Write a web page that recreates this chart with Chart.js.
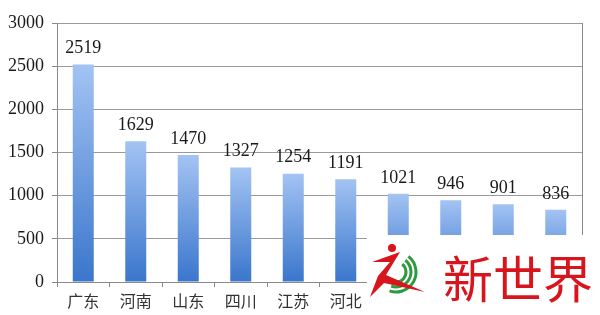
<!DOCTYPE html>
<html>
<head>
<meta charset="utf-8">
<script src="https://cdn.jsdelivr.net/npm/chart.js@4"></script>
<style>
  html, body { margin: 0; padding: 0; background: #fff; }
  #wrap { width: 600px; height: 315px; }
</style>
</head>
<body>
<div id="wrap"><canvas id="provChart" width="600" height="315"></canvas></div>
<script>
const provinces = ['广东', '河南', '山东', '四川', '江苏', '河北', '', '', '', ''];
const counts = [2519, 1629, 1470, 1327, 1254, 1191, 1021, 946, 901, 836];
const yTicks = [0, 500, 1000, 1500, 2000, 2500, 3000];

const serif = '"Liberation Serif", "DejaVu Serif", serif';

// numbers above each bar
const valueLabels = {
  id: 'valueLabels',
  afterDatasetsDraw(chart) {
    const c = chart.ctx;
    const meta = chart.getDatasetMeta(0);
    c.save();
    c.font = '18px ' + serif;
    c.fillStyle = '#1a1a1a';
    c.textAlign = 'center';
    c.textBaseline = 'bottom';
    meta.data.forEach((bar, i) => {
      c.fillText(String(counts[i]), bar.x, bar.y - 7);
    });
    c.restore();
  }
};

// right edge of the plot box
const frame = {
  id: 'frame',
  beforeDatasetsDraw(chart) {
    const a = chart.chartArea;
    const c = chart.ctx;
    c.save();
    c.strokeStyle = '#8a8a8a';
    c.lineWidth = 1;
    c.beginPath();
    c.moveTo(a.right + 0.5, a.top);
    c.lineTo(a.right + 0.5, a.bottom);
    c.stroke();
    c.restore();
  }
};

// watermark patch in the bottom right corner
const watermark = {
  id: 'watermark',
  afterDraw(chart) {
    const c = chart.ctx;
    c.save();
    c.fillStyle = '#fff';
    c.fillRect(367, 235, 233, 80);

    // green swooshes
    c.strokeStyle = '#2e9a3e';
    c.lineWidth = 3;
    for (let k = 0; k < 3; k++) {
      c.beginPath();
      c.arc(396, 272, 20 - k * 5, -0.9, 1.9);
      c.stroke();
    }
    // red figure
    c.fillStyle = '#d8141c';
    c.beginPath();
    c.arc(392, 248, 4, 0, Math.PI * 2);
    c.fill();
    c.beginPath();
    c.moveTo(372, 262);
    c.lineTo(400, 252);
    c.lineTo(386, 275);
    c.lineTo(425, 292);
    c.lineTo(384, 283);
    c.lineTo(370, 297);
    c.lineTo(378, 276);
    c.lineTo(390, 262);
    c.closePath();
    c.fill();

    c.font = '50px "Noto Sans CJK SC", sans-serif';
    c.textAlign = 'left';
    c.textBaseline = 'middle';
    c.fillText('新世界', 443, 279);
    c.restore();
  }
};

function barFill(ctx) {
  const chart = ctx.chart;
  if (!chart.chartArea || !ctx.parsed) return '#6f9be0';
  const y = chart.scales.y;
  const top = y.getPixelForValue(ctx.parsed.y);
  const base = y.getPixelForValue(0);
  const g = chart.ctx.createLinearGradient(0, top, 0, base);
  g.addColorStop(0, '#a3c3f3');
  g.addColorStop(1, '#3a76cc');
  return g;
}

new Chart(document.getElementById('provChart'), {
  type: 'bar',
  data: {
    labels: provinces,
    datasets: [{
      data: counts,
      backgroundColor: barFill,
      borderWidth: 0,
      barPercentage: 0.4,
      categoryPercentage: 1.0
    }]
  },
  options: {
    responsive: false,
    animation: false,
    events: [],
    layout: { padding: { top: 23, right: 18, left: 0, bottom: 0 } },
    plugins: {
      legend: { display: false },
      tooltip: { enabled: false }
    },
    scales: {
      x: {
        grid: {
          display: true,
          drawOnChartArea: false,
          drawTicks: true,
          tickLength: 5,
          tickColor: '#8a8a8a',
          tickWidth: 1,
          color: '#8a8a8a',
          offset: true
        },
        border: { display: true, color: '#8a8a8a' },
        ticks: {
          color: '#333',
          font: { family: '"Noto Sans CJK SC", sans-serif', size: 16 },
          padding: 4
        },
        afterFit(scale) { scale.height = 33; }
      },
      y: {
        min: 0,
        max: 3000,
        afterBuildTicks(scale) { scale.ticks = yTicks.map(v => ({ value: v })); },
        grid: { color: '#9a9a9a', tickLength: 5, tickColor: '#8a8a8a' },
        border: { display: true, color: '#8a8a8a' },
        ticks: {
          color: '#1a1a1a',
          font: { family: serif, size: 18 },
          padding: 8,
          callback: v => String(v)
        },
        afterFit(scale) { scale.width = 57; }
      }
    }
  },
  plugins: [frame, valueLabels, watermark]
});
</script>
</body>
</html>
